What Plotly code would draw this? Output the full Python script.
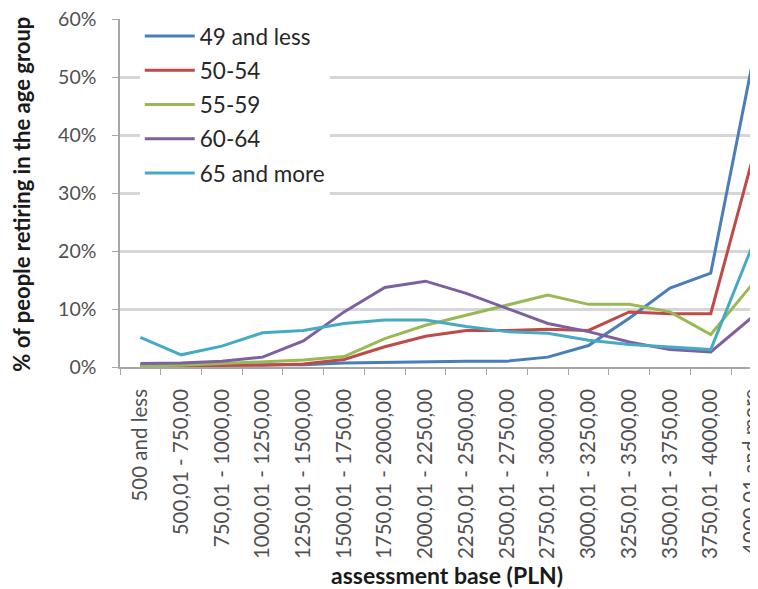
import plotly.graph_objects as go

categories = ["500 and less", "500,01 - 750,00", "750,01 - 1000,00", "1000,01 - 1250,00",
              "1250,01 - 1500,00", "1500,01 - 1750,00", "1750,01 - 2000,00", "2000,01 - 2250,00",
              "2250,01 - 2500,00", "2500,01 - 2750,00", "2750,01 - 3000,00", "3000,01 - 3250,00",
              "3250,01 - 3500,00", "3500,01 - 3750,00", "3750,01 - 4000,00", "4000,01 and more"]

s49 = [0.3, 0.3, 0.3, 0.3, 0.4, 0.7, 0.8, 1.0, 1.0, 1.0, 1.7, 3.7, 8.4, 13.6, 16.2, 51.6]
s50 = [0.2, 0.2, 0.2, 0.3, 0.5, 1.3, 3.5, 5.3, 6.3, 6.3, 6.5, 6.3, 9.5, 9.2, 9.2, 35.2]
s55 = [0.2, 0.3, 0.6, 0.9, 1.2, 1.8, 4.9, 7.2, 8.9, 10.7, 12.4, 10.8, 10.8, 9.5, 5.6, 14.1]
s60 = [0.6, 0.7, 1.0, 1.7, 4.5, 9.5, 13.7, 14.8, 12.7, 10.1, 7.5, 6.1, 4.3, 3.0, 2.6, 8.5]
s65 = [5.1, 2.1, 3.6, 5.9, 6.3, 7.5, 8.1, 8.1, 7.0, 6.1, 5.8, 4.6, 3.9, 3.5, 3.0, 20.5]

series = [("49 and less", s49, "#4A7EBB"),
          ("50-54", s50, "#BE4B48"),
          ("55-59", s55, "#98B954"),
          ("60-64", s60, "#7D60A0"),
          ("65 and more", s65, "#46AAC5")]

x_title = "assessment base (PLN)"
y_title = "% of people retiring in the age group"

fig = go.Figure()
for name, vals, col in series:
    fig.add_trace(go.Scatter(x=categories, y=[v / 100 for v in vals], mode="lines", name=name,
                             legendgroup=name, line=dict(color=col, width=3)))

# the page body has an 8px margin, so the figure is 8px smaller and margins shifted
fig.update_layout(
    width=750, height=581,
    margin=dict(l=112, r=0, t=11, b=222),
    plot_bgcolor="white", paper_bgcolor="white",
    font=dict(family="Lato, Open Sans, sans-serif", color="#404040"),
    showlegend=True,
    legend=dict(x=0.031, y=1.012, xanchor="left", yanchor="top", bgcolor="white",
                font=dict(size=22.5, color="#262626"), tracegroupgap=2, itemwidth=50),
    annotations=[
        dict(text="<b>" + x_title + "</b>", xref="paper", yref="paper", x=0.5125, y=-0.598,
             xanchor="center", yanchor="middle", showarrow=False,
             font=dict(size=23, color="#1a1a1a")),
        dict(text="<b>" + y_title + "</b>", xref="paper", yref="paper", x=-0.1536, y=0.495,
             xanchor="center", yanchor="middle", textangle=-90, showarrow=False,
             font=dict(size=22, color="#1a1a1a")),
    ],
)
fig.update_xaxes(
    type="category", range=[-0.5, 15.16], tickangle=-90, tickson="boundaries",
    ticks="outside", ticklen=6, tickcolor="#a6a6a6", showline=True, linecolor="#a6a6a6",
    linewidth=1.5, showgrid=False, tickfont=dict(size=20.5, color="#505050"),
    ticklabelstandoff=12, automargin=False, ticklabeloverflow="allow",
)
fig.update_yaxes(
    range=[0, 0.6], dtick=0.1, tickformat=".0%", ticks="outside", ticklen=6,
    tickcolor="#a6a6a6", showline=True, linecolor="#a6a6a6", linewidth=1.5,
    showgrid=True, gridcolor="#d6d6d6", gridwidth=2.5, zeroline=False,
    tickfont=dict(size=19.5, color="#505050"), ticklabelstandoff=12, automargin=False,
    ticklabeloverflow="allow",
)

fig.write_html("out.html")
